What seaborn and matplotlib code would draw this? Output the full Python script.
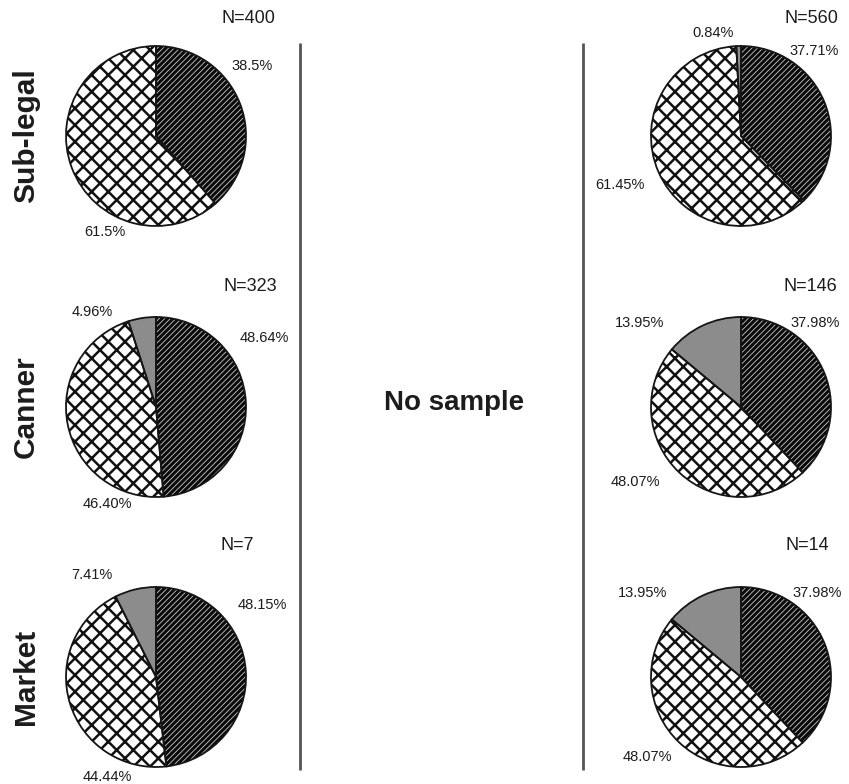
import numpy as np
import matplotlib.pyplot as plt
import seaborn as sns

# data
rows = ["Sub-legal", "Canner", "Market"]

left_n = [400, 323, 7]
left_dark = [38.5, 48.64, 48.15]
left_cross = [61.5, 46.40, 44.44]
left_gray = [0.0, 4.96, 7.41]
left_dec = [1, 2, 2]

right_n = [560, 146, 14]
right_dark = [37.71, 37.98, 37.98]
right_cross = [61.45, 48.07, 48.07]
right_gray = [0.84, 13.95, 13.95]
right_dec = [2, 2, 2]

middle_text = "No sample"

# styling
sns.set_theme(style="white")
plt.rcParams['font.family'] = ['Liberation Sans', 'DejaVu Sans']
plt.rcParams['hatch.linewidth'] = 1.6

W, H = 849, 784
fig = plt.figure(figsize=(W / 100, H / 100), dpi=100)
fig.patch.set_facecolor("white")

bg = fig.add_axes([0, 0, 1, 1])
bg.set_xlim(0, W)
bg.set_ylim(H, 0)
bg.axis('off')

txt_color = "#1c1c1c"
R = 90          # pie radius in px
col_x = [156, 741]
row_y = [136, 407, 677]

# slice styles: dark hatched, cross hatched, gray
slice_styles = [
    dict(fc="#0a0a0a", hc="#d8d8d8", hatch="//////", hlw=0.55),
    dict(fc="white", hc="#111111", hatch="xx", hlw=1.8),
    dict(fc="#8c8c8c", hc="#8c8c8c", hatch=None, hlw=1.0),
]

# label positions (px) for each pie: N, dark, cross, gray
label_pos = {
    (0, 0): [(248, 18), (252, 66), (105, 232), None],
    (1, 0): [(250, 286), (264, 338), (107, 504), (92, 312)],
    (2, 0): [(237, 545), (262, 605), (107, 777), (92, 575)],
    (0, 1): [(811, 18), (814, 51), (620, 185), (713, 33)],
    (1, 1): [(810, 286), (815, 323), (635, 482), (640, 323)],
    (2, 1): [(807, 545), (817, 593), (647, 757), (643, 593)],
}


def draw_pie(cx, cy, vals, styles):
    half = 100
    ax = fig.add_axes([(cx - half) / W, 1 - (cy + half) / H, 2 * half / W, 2 * half / H])
    wedges, _ = ax.pie(vals, radius=1, startangle=90, counterclock=False)
    for w, st in zip(wedges, styles):
        w.set_facecolor(st["fc"])
        w.set_edgecolor(st["hc"])
        w.set_linewidth(0)
        if st["hatch"]:
            w.set_hatch(st["hatch"])
            if hasattr(w, "set_hatch_linewidth"):
                w.set_hatch_linewidth(st["hlw"])
    ax.pie(vals, radius=1, startangle=90, counterclock=False,
           wedgeprops=dict(fill=False, edgecolor="#151515", linewidth=1.3))
    lim = half / R
    ax.set_xlim(-lim, lim)
    ax.set_ylim(-lim, lim)
    ax.set_aspect('equal')
    ax.axis('off')


for c, (ns, dark, cross, gray, dec) in enumerate([
        (left_n, left_dark, left_cross, left_gray, left_dec),
        (right_n, right_dark, right_cross, right_gray, right_dec)]):
    for r in range(3):
        vals = [dark[r], cross[r], gray[r]]
        keep = [i for i, v in enumerate(vals) if v > 0]
        draw_pie(col_x[c], row_y[r], [vals[i] for i in keep], [slice_styles[i] for i in keep])

        pos = label_pos[(r, c)]
        bg.text(*pos[0], f"N={ns[r]}", ha='center', va='center', fontsize=13, color=txt_color)
        for i in keep:
            bg.text(*pos[i + 1], f"{vals[i]:.{dec[r]}f}%", ha='center', va='center',
                    fontsize=10.5, color=txt_color)

# row labels
for r, name in enumerate(rows):
    bg.text(26, row_y[r], name, rotation=90, ha='center', va='center',
            fontsize=21.5, fontweight='bold', color=txt_color)

# middle column
bg.text(454, 403, middle_text, ha='center', va='center', fontsize=20,
        fontweight='bold', color=txt_color)
bg.vlines([300, 583], 43, 770, color="#555555", linewidth=2)

fig.savefig("out.png", dpi=100)
